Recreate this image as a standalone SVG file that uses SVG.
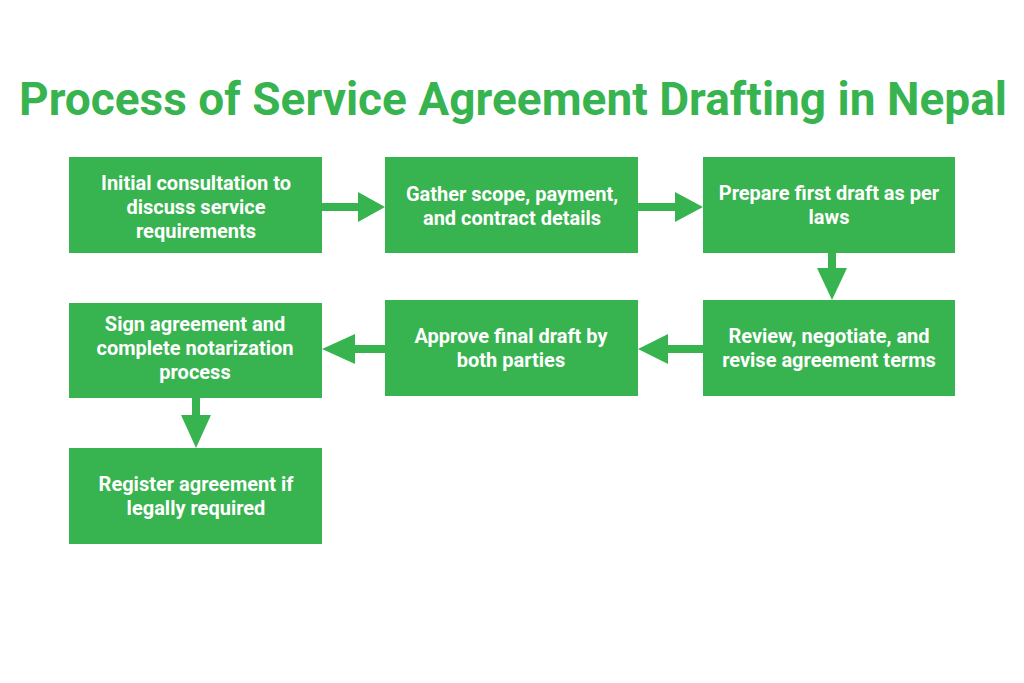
<svg xmlns="http://www.w3.org/2000/svg" width="1024" height="683" viewBox="0 0 1024 683">
<style>
.box{fill:#37b34f}
.t{font-family:Roboto,"Liberation Sans",sans-serif;font-weight:700;font-size:20px;fill:#ffffff;text-anchor:middle}
.title{font-family:Roboto,"Liberation Sans",sans-serif;font-weight:700;font-size:46px;fill:#37b34f;text-anchor:middle}
.arr{fill:#37b34f}
</style>
<rect width="1024" height="683" fill="#ffffff"/>
<text class="title" x="513" y="115" textLength="988" lengthAdjust="spacingAndGlyphs">Process of Service Agreement Drafting in Nepal</text>
<g id="connectors">
<path class="arr" d="M322,203 H358 V192 L385,207 L358,222 V211 H322 Z"/>
<path class="arr" d="M638,203 H675 V192 L703,207 L675,222 V211 H638 Z"/>
<path class="arr" d="M828,253 V268 H817 L832,300 L847,268 H836 V253 Z"/>
<path class="arr" d="M703,345 H668 V334 L638,349 L668,364 V353 H703 Z"/>
<path class="arr" d="M385,345 H355 V334 L322,349 L355,364 V353 H385 Z"/>
<path class="arr" d="M192,398 V415 H181 L196,448 L211,415 H200 V398 Z"/>
</g>
<g id="n1"><rect class="box" x="69" y="157" width="253" height="96"/>
<text class="t" x="196" y="190">Initial consultation to</text>
<text class="t" x="196" y="214">discuss service</text>
<text class="t" x="196" y="238">requirements</text></g>
<g id="n2"><rect class="box" x="385" y="157" width="253" height="96"/>
<text class="t" x="512" y="201">Gather scope, payment,</text>
<text class="t" x="512" y="225">and contract details</text></g>
<g id="n3"><rect class="box" x="703" y="157" width="252" height="96"/>
<text class="t" x="829" y="200">Prepare first draft as per</text>
<text class="t" x="829" y="224">laws</text></g>
<g id="n4"><rect class="box" x="703" y="300" width="252" height="96"/>
<text class="t" x="829" y="343">Review, negotiate, and</text>
<text class="t" x="829" y="367">revise agreement terms</text></g>
<g id="n5"><rect class="box" x="385" y="300" width="253" height="96"/>
<text class="t" x="511" y="343">Approve final draft by</text>
<text class="t" x="511" y="367">both parties</text></g>
<g id="n6"><rect class="box" x="69" y="303" width="253" height="95"/>
<text class="t" x="195" y="331">Sign agreement and</text>
<text class="t" x="195" y="355">complete notarization</text>
<text class="t" x="195" y="379">process</text></g>
<g id="n7"><rect class="box" x="69" y="448" width="253" height="96"/>
<text class="t" x="196" y="491">Register agreement if</text>
<text class="t" x="196" y="515">legally required</text></g>
</svg>
